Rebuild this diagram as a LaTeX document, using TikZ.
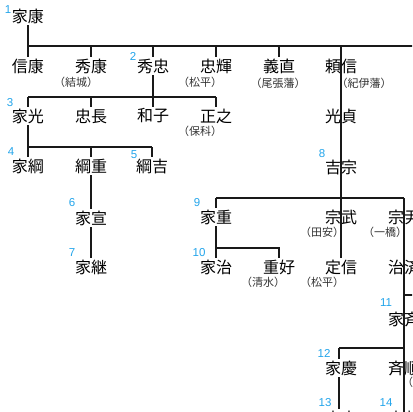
\documentclass[tikz,border=0pt]{standalone}
\usepackage{fontspec}
\setmainfont{Noto Sans CJK JP}
\newfontfamily\numfont{Liberation Sans}
\definecolor{numblue}{RGB}{35,165,235}
\definecolor{linkgray}{RGB}{25,25,25}
\begin{document}
\begin{tikzpicture}[x=1pt,y=-1pt,
  person/.style={inner sep=0pt, minimum height=18pt, font=\fontsize{16}{16}\selectfont},
  note/.style={inner sep=0pt, font=\fontsize{11}{11}\selectfont, text=black!80},
  gen/.style={inner sep=0pt, font=\numfont\fontsize{11.5}{11.5}\selectfont, text=numblue},
  link/.style={line width=1.4pt, draw=linkgray}]
\useasboundingbox (0,0) rectangle (412,412);
\clip (0,0) rectangle (412,412);
\fill[white] (0,0) rectangle (412,412);

% bus levels
\coordinate (busA) at (0,46);
\coordinate (busAend) at (430,46);
\coordinate (busB) at (0,97);
\coordinate (busC) at (0,147);
\coordinate (busD) at (0,198);
\coordinate (busE) at (0,248);
\coordinate (busF) at (0,295);
\coordinate (busFend) at (430,295);
\coordinate (busG) at (0,348);

% persons
\node[person] (ieyasu) at (28,16) {家康};
\node[person] (nobuyasu) at (28,66) {信康};
\node[person] (hideyasu) at (91,66) {秀康};
\node[person] (hidetada) at (153,66) {秀忠};
\node[person] (tadateru) at (216,66) {忠輝};
\node[person] (yoshinao) at (279,66) {義直};
\node[person] (yorinobu) at (341,66) {頼信};
\node[person] (iemitsu) at (28,116) {家光};
\node[person] (tadanaga) at (91,116) {忠長};
\node[person] (kazuko) at (153,116) {和子};
\node[person] (masayuki) at (216,116) {正之};
\node[person] (mitsusada) at (341,116) {光貞};
\node[person] (ietsuna) at (28,166) {家綱};
\node[person] (tsunashige) at (91,166) {綱重};
\node[person] (tsunayoshi) at (152,166) {綱吉};
\node[person] (yoshimune) at (341,167) {吉宗};
\node[person] (ienobu) at (91,218) {家宣};
\node[person] (ieshige) at (216,217) {家重};
\node[person] (munetake) at (341,217) {宗武};
\node[person] (munetada) at (404,217) {宗尹};
\node[person] (ietsugu) at (91,267) {家継};
\node[person] (ieharu) at (216,267) {家治};
\node[person] (shigeyoshi) at (279,267) {重好};
\node[person] (sadanobu) at (341,267) {定信};
\node[person] (harusada) at (404,267) {治済};
\node[person] (ienari) at (404,319) {家斉};
\node[person] (ieyoshi) at (341,368) {家慶};
\node[person] (narimasa) at (404,368) {斉順};
\node[person] (iesada) at (341,418) {家定};
\node[person] (iemochi) at (404,418) {家茂};

% notes
\node[note] (nyuki) at (76,82) {（結城）};
\node[note] (nmatsu1) at (200,82) {（松平）};
\node[note] (nowari) at (278,83) {（尾張藩）};
\node[note] (nkii1) at (364,83) {（紀伊藩）};
\node[note] (nhoshina) at (200,131) {（保科）};
\node[note] (ntayasu) at (322,232) {（田安）};
\node[note] (nhitotsu) at (385,232) {（一橋）};
\node[note] (nshimizu) at (263,282) {（清水）};
\node[note] (nmatsu2) at (322,282) {（松平）};
\node[note, anchor=west] (nkii2) at (402,382) {（紀伊藩）};

% generation numbers
\node[gen] (g1) at (8,10) {1};
\node[gen] (g2) at (133,56) {2};
\node[gen] (g3) at (10,103) {3};
\node[gen] (g4) at (11,152) {4};
\node[gen] (g5) at (134,155) {5};
\node[gen] (g6) at (72,203) {6};
\node[gen] (g7) at (72,253) {7};
\node[gen] (g8) at (322,154) {8};
\node[gen] (g9) at (197,203) {9};
\node[gen] (g10) at (199,253) {10};
\node[gen] (g11) at (386,303) {11};
\node[gen] (g12) at (324,353) {12};
\node[gen] (g13) at (325,403) {13};
\node[gen] (g14) at (386,403) {14};

% connectors
\draw[link] (ieyasu.south) -- (ieyasu.south |- busA) -- (busAend);
\draw[link] (nobuyasu.north |- busA) -- (nobuyasu.north);
\draw[link] (hideyasu.north |- busA) -- (hideyasu.north);
\draw[link] (hidetada.north |- busA) -- (hidetada.north);
\draw[link] (tadateru.north |- busA) -- (tadateru.north);
\draw[link] (yoshinao.north |- busA) -- (yoshinao.north);
\draw[link] (yorinobu.north |- busA) -- (sadanobu.north);

\draw[link] (hidetada.south) -- (hidetada.south |- busB);
\draw[link] (iemitsu.north |- busB) -- (masayuki.north |- busB);
\draw[link] (iemitsu.north |- busB) -- (iemitsu.north);
\draw[link] (tadanaga.north |- busB) -- (tadanaga.north);
\draw[link] (kazuko.north |- busB) -- (kazuko.north);
\draw[link] (masayuki.north |- busB) -- (masayuki.north);

\draw[link] (iemitsu.south) -- (iemitsu.south |- busC);
\draw[link] (ietsuna.north |- busC) -- (tsunayoshi.north |- busC);
\draw[link] (ietsuna.north |- busC) -- (ietsuna.north);
\draw[link] (tsunashige.north |- busC) -- (tsunashige.north);
\draw[link] (tsunayoshi.north |- busC) -- (tsunayoshi.north);
\draw[link] (tsunashige.south) -- (ienobu.north);
\draw[link] (ienobu.south) -- (ietsugu.north);

\draw[link] (ieshige.north |- busD) -- (munetada.north |- busD);
\draw[link] (ieshige.north |- busD) -- (ieshige.north);
\draw[link] (munetada.north |- busD) -- (iemochi.south);

\draw[link] (ieshige.south) -- (ieharu.north);
\draw[link] (ieharu.north |- busE) -- (shigeyoshi.north |- busE) -- (shigeyoshi.north);

\draw[link] (harusada.south |- busF) -- (busFend);

\draw[link] ([xshift=-2pt]ieyoshi.north |- busG) -- (narimasa.north |- busG);
\draw[link] ([xshift=-2pt]ieyoshi.north |- busG) -- ([xshift=-2pt]ieyoshi.north);
\draw[link] ([xshift=-2pt]ieyoshi.south) -- ([xshift=-2pt]iesada.north);
\end{tikzpicture}
\end{document}
